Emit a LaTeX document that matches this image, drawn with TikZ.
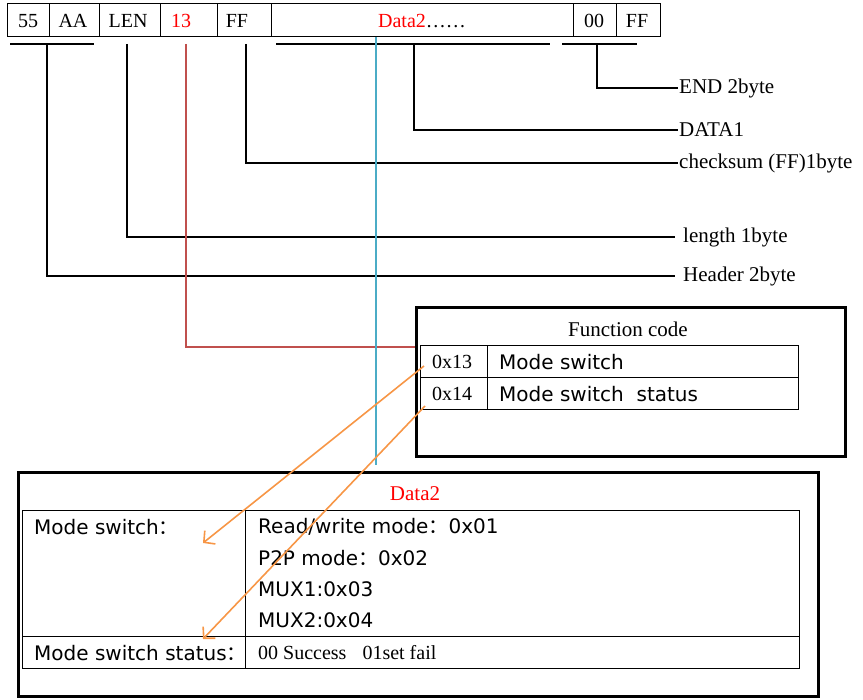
\documentclass[tikz,border=0pt]{standalone}
\usepackage{fontspec}
\setmainfont{Liberation Serif}
\newfontfamily\verd{DejaVu Sans}
\newfontfamily\cjk{Noto Sans CJK SC}
\usetikzlibrary{arrows.meta}
\definecolor{linkred}{HTML}{C0504D}
\definecolor{guide}{HTML}{4BACC6}
\definecolor{pointer}{HTML}{F79646}
\newcommand{\fw}{{\cjk ：}}

\begin{document}
\begin{tikzpicture}[x=1pt,y=-1pt,
    field/.style={font=\fontsize{20}{24}\selectfont, inner sep=1pt},
    tag/.style={anchor=west, font=\fontsize{21}{25}\selectfont, inner sep=1pt},
    sanstxt/.style={anchor=west, font=\verd\fontsize{20}{24}\selectfont, inner sep=0pt},
    bar/.style={line width=2pt},
    lead/.style={line width=2pt},
    heavybox/.style={draw, line width=3pt, inner sep=0pt, anchor=north west},
    cellline/.style={line width=1pt},
    pick/.style={pointer, line width=1.6pt, -{Straight Barb[length=8pt,width=17pt]}}]
    \useasboundingbox (0,0) rectangle (863,700);

    % Draw the frame fields
    \draw[cellline] (7,4) rectangle (660,37);
    \foreach \x in {49,99,160,217,271,573,616}
        \draw[cellline] (\x,4) -- (\x,37);

    % Field labels
    \node[field] (f55) at (28,21) {55};
    \node[field] (faa) at (73,21) {AA};
    \node[field] (flen) at (128,21) {LEN};
    \node[field, red] (fcode) at (181,21) {13};
    \node[field] (fsum) at (237,21) {FF};
    \node[field] (fdata) at (422,21) {\textcolor{red}{Data2}……};
    \node[field] (fend1) at (594,21) {00};
    \node[field] (fend2) at (637,21) {FF};

    % Bars under the fields
    \draw[bar] (10,44) -- (94,44); % header
    \draw[bar] (276,44) -- (550,44); % data
    \draw[bar] (562,44) -- (637,44); % end

    \coordinate (hdrp) at (47,44);
    \coordinate (lenp) at (127,44);
    \coordinate (codep) at (186,44);
    \coordinate (sump) at (246,44);
    \coordinate (datap) at (414,44);
    \coordinate (endp) at (597,44);

    % Field names on the right
    \node[tag] (lend) at (678,88) {END 2byte};
    \node[tag] (ldata) at (678,130) {DATA1};
    \node[tag] (lsum) at (678,163) {checksum (FF)1byte};
    \node[tag] (llen) at (682,237) {length 1byte};
    \node[tag] (lhdr) at (682,276) {Header 2byte};

    \draw[lead] (endp) |- (lend.west);
    \draw[lead] (datap) |- (ldata.west);
    \draw[lead] (sump) |- (lsum.west);
    \draw[lead] (lenp) |- ([xshift=-7pt]llen.west);
    \draw[lead] (hdrp) |- ([xshift=-7pt]lhdr.west);

    % Function code box
    \node[heavybox, minimum width=429pt, minimum height=149pt] (fnbox) at (415,306) {};
    \node[tag, anchor=center] (fntitle) at (628,329) {Function code};
    \draw[cellline] (420,346) rectangle (798,410);
    \draw[cellline] (420,378) -- (798,378);
    \draw[cellline] (487,346) -- (487,410);
    \node[field] (k13) at (452,362) {0x13};
    \node[sanstxt] (v13) at (499,362) {Mode switch};
    \node[field] (k14) at (452,394) {0x14};
    \node[sanstxt] (v14) at (499,394) {Mode switch\ \ status};

    % Data2 box
    \node[heavybox, minimum width=800pt, minimum height=224pt] (dbox) at (17,471) {};
    \node[tag, anchor=center, red] (dtitle) at (415,494) {Data2};
    \draw[cellline] (22,511) rectangle (799,668);
    \draw[cellline] (22,636) -- (799,636);
    \draw[cellline] (245,511) -- (245,668);
    \node[sanstxt] (mslbl) at (34,527) {Mode switch\fw};
    \node[sanstxt] (rw) at (258,527) {Read/write mode\fw 0x01};
    \node[sanstxt] (p2p) at (258,558) {P2P mode\fw 0x02};
    \node[sanstxt] (mux1) at (258,589) {MUX1:0x03};
    \node[sanstxt] (mux2) at (258,620) {MUX2:0x04};
    \node[sanstxt] (msslbl) at (34,653) {Mode switch status\fw};
    \node[field, anchor=west] (stat) at (257,653) {00 Success\hspace{16pt}01set fail};

    % Code line and guide
    \coordinate (codein) at (415,347);
    \draw[lead, linkred] (codep) |- (codein);
    \coordinate (gtop) at (376,37);
    \coordinate (gbot) at (376,465);
    \draw[guide, line width=2pt] (gtop) -- (gbot);

    % Pointers into Data2
    \coordinate (from13) at (424,366);
    \coordinate (from14) at (425,406);
    \coordinate (to13) at (203,543);
    \coordinate (to14) at (203,639);
    \draw[pick] (from13) -- (to13);
    \draw[pick] (from14) -- (to14);
\end{tikzpicture}
\end{document}
